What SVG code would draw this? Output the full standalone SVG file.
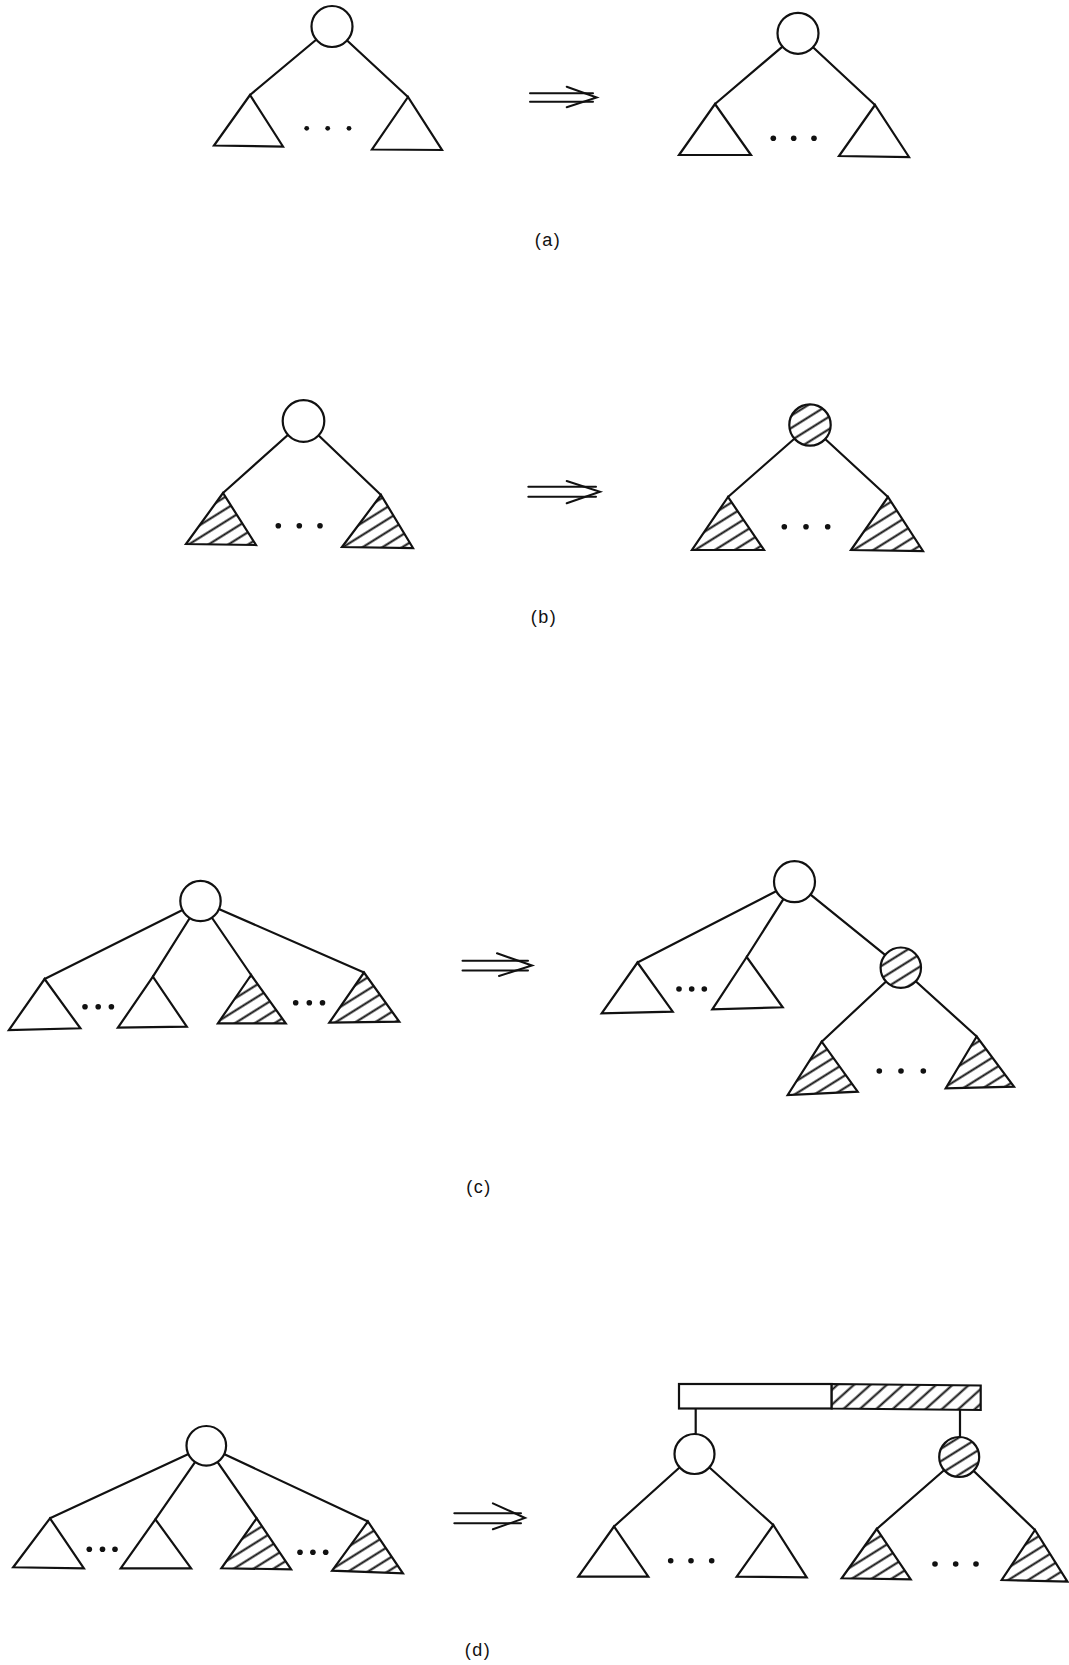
<svg xmlns="http://www.w3.org/2000/svg" width="1069" height="1665" viewBox="0 0 1069 1665">
<defs>
<pattern id="hatch" patternUnits="userSpaceOnUse" width="12" height="10.5" patternTransform="rotate(-32)">
<rect width="12" height="10.5" fill="#fff"/>
<line x1="0" y1="5.25" x2="12" y2="5.25" stroke="#111" stroke-width="2"/>
</pattern>
<pattern id="hatchbar" patternUnits="userSpaceOnUse" width="12" height="11" patternTransform="rotate(-42)">
<rect width="12" height="11" fill="#fff"/>
<line x1="0" y1="5.5" x2="12" y2="5.5" stroke="#111" stroke-width="2"/>
</pattern>
<style>
.ln{stroke:#111;stroke-width:2.2;fill:none;stroke-linecap:round}
.tri{fill:#fff;stroke:#111;stroke-width:2.2;stroke-linejoin:miter}
.htri{fill:url(#hatch);stroke:#111;stroke-width:2.2;stroke-linejoin:miter}
.nd{fill:#fff;stroke:#111;stroke-width:2.2}
.hnd{fill:url(#hatch);stroke:#111;stroke-width:2.2}
.dot{fill:#111}
.arr{stroke:#111;stroke-width:2;fill:none;stroke-linecap:round;stroke-linejoin:miter}
.lbl{font-family:"Liberation Sans",Arial,sans-serif;font-size:18px;fill:#111;text-anchor:middle;letter-spacing:1.5px}
</style>
</defs>
<rect width="1069" height="1665" fill="#fff"/>

<!-- connectors -->
<g id="connectors" class="ln">
<line x1="332" y1="26.5" x2="250" y2="95"/>
<line x1="332" y1="26.5" x2="408" y2="97"/>
<line x1="798" y1="33.3" x2="715" y2="104"/>
<line x1="798" y1="33.3" x2="875" y2="105"/>
<line x1="303.5" y1="421" x2="223" y2="493"/>
<line x1="303.5" y1="421" x2="381" y2="495"/>
<line x1="810" y1="425" x2="728" y2="497"/>
<line x1="810" y1="425" x2="888" y2="497"/>
<line x1="200.5" y1="901" x2="44.6" y2="979"/>
<line x1="200.5" y1="901" x2="152.9" y2="976.7"/>
<line x1="200.5" y1="901" x2="251.1" y2="975"/>
<line x1="200.5" y1="901" x2="364" y2="972.5"/>
<line x1="794.5" y1="881.7" x2="637.5" y2="962.5"/>
<line x1="794.5" y1="881.7" x2="746.7" y2="957"/>
<line x1="794.5" y1="881.7" x2="900.8" y2="967.7"/>
<line x1="900.8" y1="967.7" x2="821.7" y2="1041.7"/>
<line x1="900.8" y1="967.7" x2="976.7" y2="1036.5"/>
<line x1="206.3" y1="1445.8" x2="50" y2="1518.3"/>
<line x1="206.3" y1="1445.8" x2="155.4" y2="1519.3"/>
<line x1="206.3" y1="1445.8" x2="256.6" y2="1518.3"/>
<line x1="206.3" y1="1445.8" x2="367.9" y2="1521.5"/>
<line x1="695.7" y1="1408.5" x2="695.7" y2="1434.5"/>
<line x1="960" y1="1410" x2="960" y2="1437.5"/>
<line x1="694.5" y1="1454" x2="614" y2="1526.5"/>
<line x1="694.5" y1="1454" x2="773.3" y2="1525"/>
<line x1="959.2" y1="1457" x2="876.7" y2="1529"/>
<line x1="959.2" y1="1457" x2="1035" y2="1530"/>
</g>

<!-- transformation arrows -->
<g id="arrows" class="arr">
<g id="arrow-a"><line x1="530" y1="93.3" x2="593" y2="93.3"/><line x1="530" y1="101.7" x2="593" y2="101.7"/><polyline points="566.7,86.7 596.7,97.5 566.7,107.3"/></g>
<g id="arrow-b"><line x1="528.3" y1="486.7" x2="596" y2="486.7"/><line x1="528.3" y1="496.7" x2="596" y2="496.7"/><polyline points="566.7,481 600,491.7 566.7,503.3"/></g>
<g id="arrow-c"><line x1="462.5" y1="960.7" x2="528" y2="960.7"/><line x1="462.5" y1="970.5" x2="528" y2="970.5"/><polyline points="497,953.3 532,965.5 499,976"/></g>
<g id="arrow-d"><line x1="454.3" y1="1513.3" x2="521" y2="1513.3"/><line x1="454.3" y1="1523.3" x2="521" y2="1523.3"/><polyline points="492.9,1503.3 525,1518 492.9,1529.3"/></g>
</g>

<!-- (a) -->
<g id="a-left">
<circle id="a-left-root" class="nd" cx="332" cy="26.5" r="20.5"/>
<polygon id="a-left-t1" class="tri" points="250,95 214,145.5 283,146.5"/>
<polygon id="a-left-t2" class="tri" points="408,97 372,149.5 442,150"/>
<g id="a-left-dots" class="dot"><circle cx="306.7" cy="128.3" r="2.4"/><circle cx="327.7" cy="128.3" r="2.4"/><circle cx="349" cy="128.3" r="2.4"/></g>
</g>
<g id="a-right">
<circle id="a-right-root" class="nd" cx="798" cy="33.3" r="20.5"/>
<polygon id="a-right-t1" class="tri" points="715,104 679,155 751,155"/>
<polygon id="a-right-t2" class="tri" points="875,105 839,156 909,157"/>
<g id="a-right-dots" class="dot"><circle cx="773.3" cy="138.3" r="2.8"/><circle cx="793.7" cy="138.3" r="2.8"/><circle cx="814" cy="138.3" r="2.8"/></g>
</g>
<text id="label-a" class="lbl" x="548" y="246">(a)</text>

<!-- (b) -->
<g id="b-left">
<circle id="b-left-root" class="nd" cx="303.5" cy="421" r="20.8"/>
<polygon id="b-left-t1" class="htri" points="223,493 186,544 256,545"/>
<polygon id="b-left-t2" class="htri" points="381,495 342,547 413,548"/>
<g id="b-left-dots" class="dot"><circle cx="278.3" cy="525.7" r="2.8"/><circle cx="299.3" cy="525.7" r="2.8"/><circle cx="320" cy="525.7" r="2.8"/></g>
</g>
<g id="b-right">
<circle id="b-right-root" class="hnd" cx="810" cy="425" r="20.7"/>
<polygon id="b-right-t1" class="htri" points="728,497 692,550 764,550"/>
<polygon id="b-right-t2" class="htri" points="888,497 851,550 923,551"/>
<g id="b-right-dots" class="dot"><circle cx="784.3" cy="526.7" r="2.8"/><circle cx="806" cy="526.7" r="2.8"/><circle cx="827.7" cy="526.7" r="2.8"/></g>
</g>
<text id="label-b" class="lbl" x="544" y="623">(b)</text>

<!-- (c) -->
<g id="c-left">
<circle id="c-left-root" class="nd" cx="200.5" cy="901" r="20.2"/>
<polygon id="c-left-t1" class="tri" points="44.6,979 8.9,1030 80.4,1028.3"/>
<polygon id="c-left-t2" class="tri" points="152.9,976.7 117.9,1027.7 186.8,1026.7"/>
<polygon id="c-left-t3" class="htri" points="251.1,975 217.9,1023.3 285.7,1023.3"/>
<polygon id="c-left-t4" class="htri" points="364,972.5 329.3,1022.7 399.3,1021.7"/>
<g id="c-left-dots1" class="dot"><circle cx="85" cy="1006.7" r="2.8"/><circle cx="98.2" cy="1006.7" r="2.8"/><circle cx="111.4" cy="1006.7" r="2.8"/></g>
<g id="c-left-dots2" class="dot"><circle cx="295.7" cy="1002.7" r="2.8"/><circle cx="309.3" cy="1002.7" r="2.8"/><circle cx="322.5" cy="1002.7" r="2.8"/></g>
</g>
<g id="c-right">
<circle id="c-right-root" class="nd" cx="794.5" cy="881.7" r="20.5"/>
<polygon id="c-right-t1" class="tri" points="637.5,962.5 601.7,1013.3 672.7,1011.7"/>
<polygon id="c-right-t2" class="tri" points="746.7,957 712.3,1009.3 782.7,1007.3"/>
<g id="c-right-dots1" class="dot"><circle cx="679" cy="989" r="2.8"/><circle cx="691.7" cy="989" r="2.8"/><circle cx="704.3" cy="989" r="2.8"/></g>
<circle id="c-right-sub" class="hnd" cx="900.8" cy="967.7" r="20.2"/>
<polygon id="c-right-t3" class="htri" points="821.7,1041.7 787.7,1095 857.7,1091.7"/>
<polygon id="c-right-t4" class="htri" points="976.7,1036.5 945.7,1088.3 1014,1086.7"/>
<g id="c-right-dots2" class="dot"><circle cx="879.3" cy="1071" r="2.8"/><circle cx="901" cy="1071" r="2.8"/><circle cx="923.3" cy="1071" r="2.8"/></g>
</g>
<text id="label-c" class="lbl" x="479" y="1193">(c)</text>

<!-- (d) -->
<g id="d-left">
<circle id="d-left-root" class="nd" cx="206.3" cy="1445.8" r="19.8"/>
<polygon id="d-left-t1" class="tri" points="50,1518.3 13.2,1567.3 83.9,1568.3"/>
<polygon id="d-left-t2" class="tri" points="155.4,1519.3 120.7,1568.3 191.1,1568.3"/>
<polygon id="d-left-t3" class="htri" points="256.6,1518.3 221.4,1568.3 291.1,1569.3"/>
<polygon id="d-left-t4" class="htri" points="367.9,1521.5 332.1,1570.7 402.9,1573.3"/>
<g id="d-left-dots1" class="dot"><circle cx="89.3" cy="1549.3" r="2.8"/><circle cx="102.5" cy="1549.3" r="2.8"/><circle cx="115" cy="1549.3" r="2.8"/></g>
<g id="d-left-dots2" class="dot"><circle cx="300" cy="1552.3" r="2.8"/><circle cx="312.9" cy="1552.3" r="2.8"/><circle cx="325.7" cy="1552.3" r="2.8"/></g>
</g>
<g id="d-right">
<g id="d-right-bar">
<rect x="679" y="1384" width="152.7" height="24.5" fill="#fff" stroke="#111" stroke-width="2.2"/>
<polygon points="831.7,1384 980.7,1385.5 980.7,1410 831.7,1408.5" fill="url(#hatchbar)" stroke="#111" stroke-width="2.2"/>
</g>
<circle id="d-right-root1" class="nd" cx="694.5" cy="1454" r="20"/>
<polygon id="d-right-t1" class="tri" points="614,1526.5 578.3,1576.7 648.3,1576.7"/>
<polygon id="d-right-t2" class="tri" points="773.3,1525 736.7,1576.7 806.7,1577.3"/>
<g id="d-right-dots1" class="dot"><circle cx="670.7" cy="1560.7" r="2.8"/><circle cx="691" cy="1560.7" r="2.8"/><circle cx="711.7" cy="1560.7" r="2.8"/></g>
<circle id="d-right-root2" class="hnd" cx="959.2" cy="1457" r="20"/>
<polygon id="d-right-t3" class="htri" points="876.7,1529 841.7,1578.3 910.7,1579.3"/>
<polygon id="d-right-t4" class="htri" points="1035,1530 1001.7,1580 1067.5,1581.7"/>
<g id="d-right-dots2" class="dot"><circle cx="935" cy="1564" r="2.8"/><circle cx="955.7" cy="1564" r="2.8"/><circle cx="976" cy="1564" r="2.8"/></g>
</g>
<text id="label-d" class="lbl" x="478" y="1656">(d)</text>
</svg>
